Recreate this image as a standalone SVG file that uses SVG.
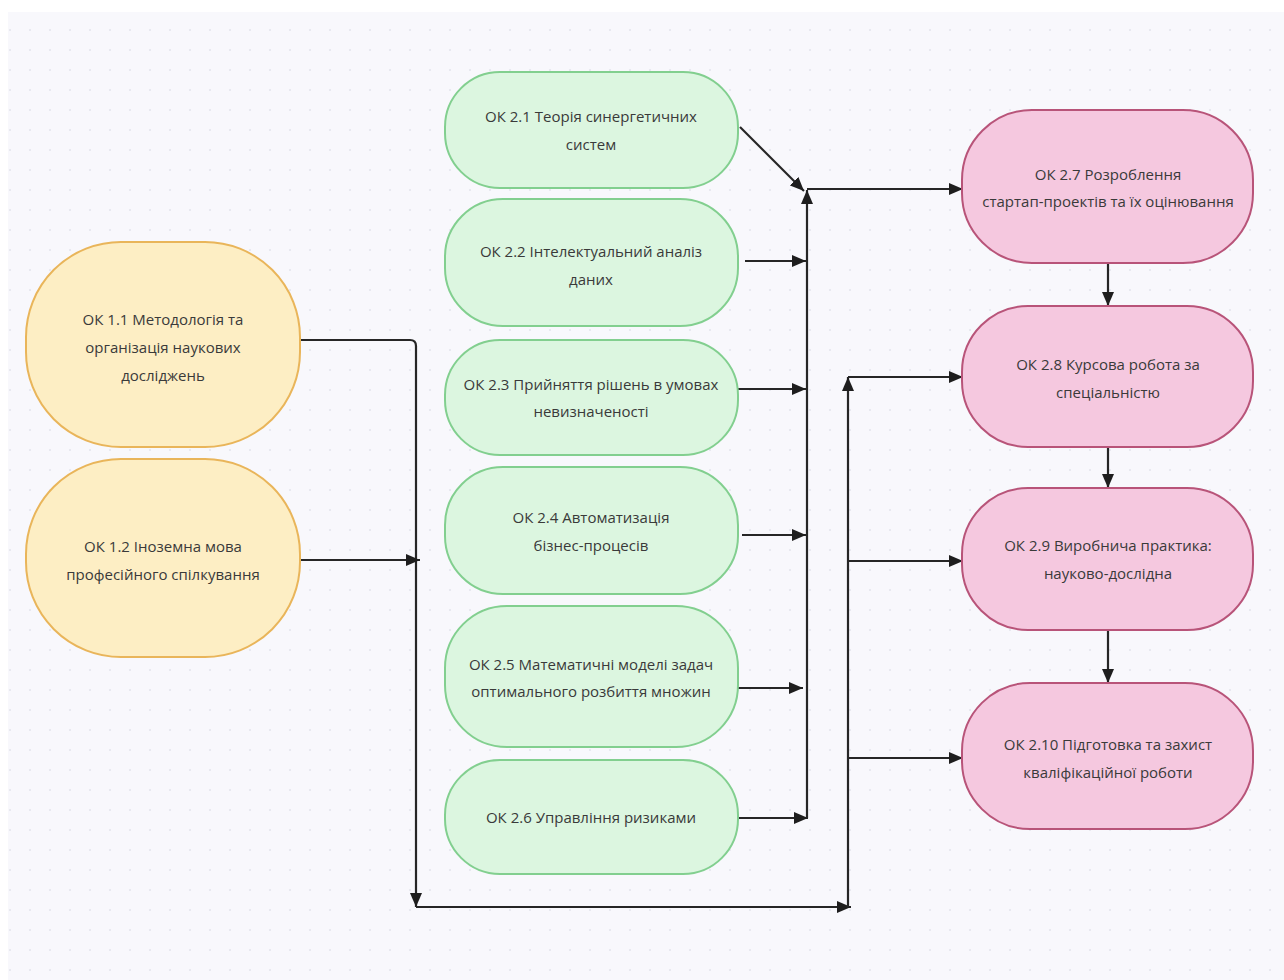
<svg xmlns="http://www.w3.org/2000/svg" width="1284" height="980" viewBox="0 0 1284 980">
<defs>
<pattern id="dots" x="0" y="0" width="20" height="20" patternUnits="userSpaceOnUse">
<circle cx="10" cy="10" r="1" fill="#e3e4ec"/>
</pattern>
<marker id="arr" markerUnits="userSpaceOnUse" markerWidth="14" markerHeight="12" refX="14" refY="6" orient="auto">
<path d="M0,0 L14,6 L0,12 z" fill="#1e1e1e"/>
</marker>
<style>
.bg{fill:#f8f8fc}
.y{fill:#fdeec4;stroke:#e9b55a;stroke-width:2}
.g{fill:#dcf6e0;stroke:#82cf8f;stroke-width:2}
.p{fill:#f5c8df;stroke:#b85479;stroke-width:2}
.t{font-family:"Open Sans","Noto Sans",sans-serif;font-size:15px;fill:#3a3a3a;text-anchor:middle;dominant-baseline:central}
.ca{fill:none;stroke:#262626;stroke-width:2.2;marker-end:url(#arr)}
</style>
</defs>
<rect width="1284" height="980" fill="#ffffff"/>
<rect x="8" y="12" width="1276" height="968" class="bg"/>
<rect x="8" y="12" width="1276" height="968" fill="url(#dots)"/>

<g id="connectors">
<path class="ca" d="M300,340 H410 Q416,340 416,346 V907"/>
<path class="ca" d="M416,907 H851"/>
<path class="ca" d="M848,907 V377"/>
<path class="ca" d="M848,377 H963"/>
<path class="ca" d="M848,561 H963"/>
<path class="ca" d="M848,758 H963"/>
<path class="ca" d="M300,560 H420"/>
<path class="ca" d="M740,127 L804,191"/>
<path class="ca" d="M745,261 H806"/>
<path class="ca" d="M738,389 H806"/>
<path class="ca" d="M742,535 H806"/>
<path class="ca" d="M735,688 H803"/>
<path class="ca" d="M738,818 H808"/>
<path class="ca" d="M807,818 V190"/>
<path class="ca" d="M807,189 H963"/>
<path class="ca" d="M1108,263 V306"/>
<path class="ca" d="M1108,447 V488"/>
<path class="ca" d="M1108,630 V683"/>
</g>

<g id="ok11"><rect class="y" x="26" y="242" width="274" height="205" rx="95" ry="95"/>
<text class="t" x="163" y="319">ОК 1.1 Методологія та</text>
<text class="t" x="163" y="347">організація наукових</text>
<text class="t" x="163" y="375">досліджень</text></g>

<g id="ok12"><rect class="y" x="26" y="459" width="274" height="198" rx="95" ry="95"/>
<text class="t" x="163" y="546">ОК 1.2 Іноземна мова</text>
<text class="t" x="163" y="574">професійного спілкування</text></g>

<g id="ok21"><rect class="g" x="445" y="72" width="293" height="116" rx="55" ry="55"/>
<text class="t" x="591" y="116">ОК 2.1 Теорія синергетичних</text>
<text class="t" x="591" y="144">систем</text></g>

<g id="ok22"><rect class="g" x="445" y="199" width="293" height="127" rx="58" ry="58"/>
<text class="t" x="591" y="251">ОК 2.2 Інтелектуальний аналіз</text>
<text class="t" x="591" y="279">даних</text></g>

<g id="ok23"><rect class="g" x="445" y="340" width="293" height="115" rx="55" ry="55"/>
<text class="t" x="591" y="384">ОК 2.3 Прийняття рішень в умовах</text>
<text class="t" x="591" y="411">невизначеності</text></g>

<g id="ok24"><rect class="g" x="445" y="467" width="293" height="127" rx="58" ry="58"/>
<text class="t" x="591" y="517">ОК 2.4 Автоматизація</text>
<text class="t" x="591" y="545">бізнес-процесів</text></g>

<g id="ok25"><rect class="g" x="445" y="606" width="293" height="141" rx="62" ry="62"/>
<text class="t" x="591" y="664">ОК 2.5 Математичні моделі задач</text>
<text class="t" x="591" y="691">оптимального розбиття множин</text></g>

<g id="ok26"><rect class="g" x="445" y="760" width="293" height="114" rx="55" ry="55"/>
<text class="t" x="591" y="817">ОК 2.6 Управління ризиками</text></g>

<g id="ok27"><rect class="p" x="962" y="110" width="291" height="153" rx="70" ry="70"/>
<text class="t" x="1108" y="174">ОК 2.7 Розроблення</text>
<text class="t" x="1108" y="201">стартап-проектів та їх оцінювання</text></g>

<g id="ok28"><rect class="p" x="962" y="306" width="291" height="141" rx="66" ry="66"/>
<text class="t" x="1108" y="364">ОК 2.8 Курсова робота за</text>
<text class="t" x="1108" y="392">спеціальністю</text></g>

<g id="ok29"><rect class="p" x="962" y="488" width="291" height="142" rx="66" ry="66"/>
<text class="t" x="1108" y="545">ОК 2.9 Виробнича практика:</text>
<text class="t" x="1108" y="573">науково-дослідна</text></g>

<g id="ok210"><rect class="p" x="962" y="683" width="291" height="146" rx="68" ry="68"/>
<text class="t" x="1108" y="744">ОК 2.10 Підготовка та захист</text>
<text class="t" x="1108" y="772">кваліфікаційної роботи</text></g>
</svg>
